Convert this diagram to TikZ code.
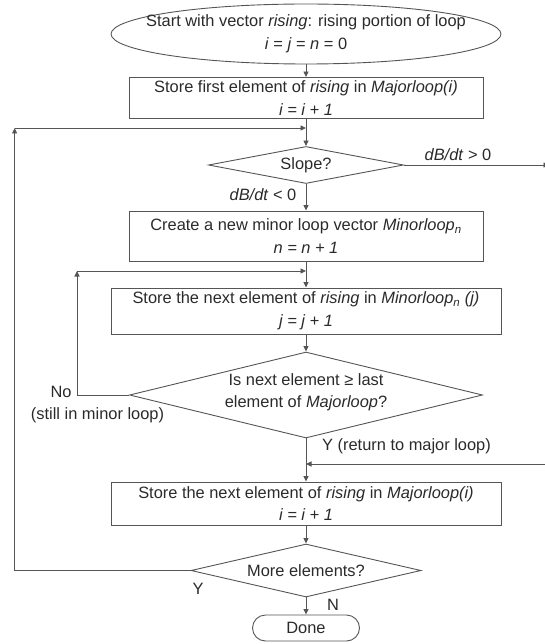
\documentclass[tikz,border=0pt]{standalone}
\usepackage{fontspec}
\setmainfont{Liberation Sans}
\usetikzlibrary{arrows.meta,shapes.geometric}
\definecolor{ln}{HTML}{555555}
\definecolor{tx}{HTML}{2a2a2a}
\begin{document}
\begin{tikzpicture}[x=1pt,y=-1pt, font=\fontsize{16.4}{22.5}\selectfont, text=tx,
  box/.style={draw=ln, line width=0.9pt, rectangle, inner sep=0pt, align=center},
  dia/.style={draw=ln, line width=0.9pt, diamond, inner sep=0pt},
  arr/.style={draw=ln, line width=0.9pt, -{Triangle[length=5.5pt,width=5pt]}},
  plain/.style={draw=ln, line width=0.9pt}]
\useasboundingbox (0,0) rectangle (545,644);

\node[draw=ln, ellipse, line width=0.9pt, minimum width=390pt, minimum height=60pt, inner sep=0pt] (start) at (306,34) {};
\node[align=center] (starttxt) at (start) {Start with vector \textit{rising}: rising portion of loop\\ \textit{i} = \textit{j} = \textit{n} = 0};

\node[box, minimum width=354pt, minimum height=41pt] (b1) at (306,98) {Store first element of \textit{rising} in \textit{Majorloop(i)}\\ \textit{i = i + 1}};

\node[dia, minimum width=195pt, minimum height=37pt] (slope) at (306,165) {};
\node (slopet) at (slope) {Slope?};

\node[box, minimum width=354pt, minimum height=50pt] (b2) at (306,236) {Create a new minor loop vector \textit{Minorloop}\textsubscript{\textit{n}}\\ \textit{n = n + 1}};

\node[box, minimum width=390pt, minimum height=46pt] (b3) at (306,311) {Store the next element of \textit{rising} in \textit{Minorloop}\textsubscript{\textit{n}} \textit{(j)}\\ \textit{j = j + 1}};

\node[dia, minimum width=353pt, minimum height=86pt] (d3) at (306,395) {};
\node[align=center] (d3t) at (306,392.5) {Is next element ≥ last\\ element of \textit{Majorloop}?};

\node[box, minimum width=390pt, minimum height=43pt] (b4) at (306,503.5) {Store the next element of \textit{rising} in \textit{Majorloop(i)}\\ \textit{i = i + 1}};

\node[dia, minimum width=230pt, minimum height=53pt] (d4) at (306,570.5) {};
\node (d4t) at (d4) {More elements?};

\node[draw=ln, line width=0.9pt, rectangle, rounded corners=13pt, minimum width=107pt, minimum height=26pt, inner sep=0pt] (done) at (306,628) {Done};

\coordinate (j1) at (306,128);
\coordinate (c1) at (14.6,128);
\coordinate (j2) at (306,271);
\coordinate (c2) at (77,271);
\coordinate (n3) at (77,395);
\coordinate (j3) at (306,464);
\coordinate (r3) at (550,464);
\coordinate (r1) at (549,165);

\draw[arr] (start) -- (b1);
\draw[plain] (b1) -- (j1);
\draw[arr] (j1) -- (slope.north);
\draw[arr] (slope.east) -- (r1);
\draw[arr] (slope.south) -- (b2);
\draw[plain] (b2) -- (j2);
\draw[arr] (j2) -- (b3);
\draw[arr] (b3) -- (d3.north);
\draw[plain] (d3.west) -- (n3);
\draw[arr] (n3) -- (c2);
\draw[arr] (c2) -- (j2);
\draw[plain] (d3.south) -- (j3);
\draw[arr] (j3) -- (b4);
\draw[arr] (r3) -- (j3);
\draw[arr] (b4) -- (d4.north);
\draw[arr] (d4.west) -| (c1);
\draw[arr] (c1) -- (j1);
\draw[arr] (d4.south) -- (done);

\node (lgt) at (458,155) {\textit{dB/dt} > 0};
\node (llt) at (263,195) {\textit{dB/dt} < 0};
\node (no) at (61,392) {No};
\node (still) at (97.5,415) {(still in minor loop)};
\node (yret) at (406.5,446) {Y (return to major loop)};
\node (y4) at (198,589) {Y};
\node (n4) at (333,605) {N};
\end{tikzpicture}
\end{document}
